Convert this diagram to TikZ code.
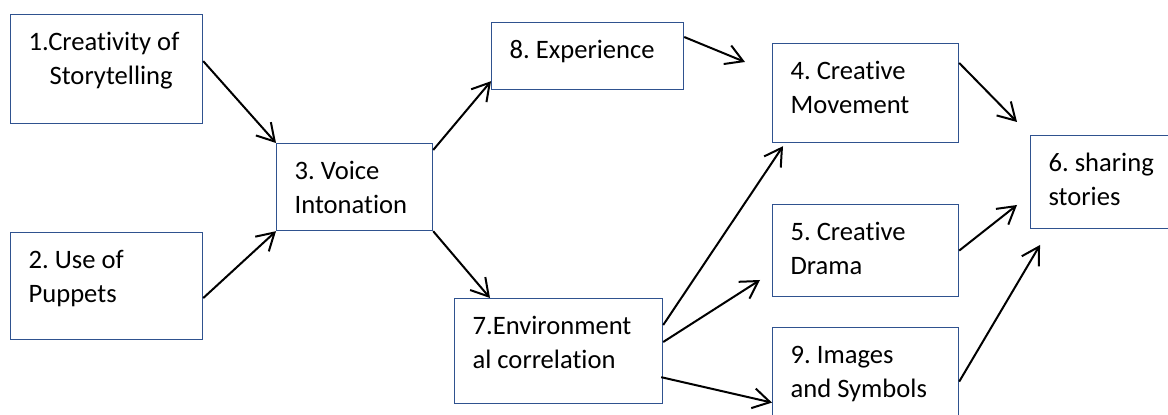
\documentclass[tikz,border=0pt]{standalone}
\usepackage{fontspec}
\setmainfont{Carlito}[Ligatures=NoCommon]
\usepackage{tikz}
\usetikzlibrary{arrows.meta}
\definecolor{boxblue}{HTML}{2F528F}

\tikzset{
  box/.style 2 args={draw=boxblue, line width=0.6pt, anchor=north west,
    inner xsep=9pt, inner ysep=0pt, align=flush left,
    text width=#1, text height=18pt, text depth=#2,
    font=\fontsize{13.3}{17}\selectfont\frenchspacing},
  arr/.style={-{Straight Barb[length=8.5pt,width=10pt]}, line width=1pt}
}

\begin{document}
\begin{tikzpicture}[x=0.5pt,y=-0.5pt]
\clip (0,0) rectangle (1168,415);
\fill[white] (0,0) rectangle (1168,415);

% left column
\node[box={78pt}{36.5pt}] (b1) at (10,14) {1.Creativity of\\\hspace*{10.5pt}Storytelling};
\node[box={78pt}{35.5pt}] (b2) at (10,232) {2. Use of\\Puppets};
\node[box={60pt}{25.5pt}] (b3) at (276,143) {3. Voice\\Intonation};

% middle
\node[box={78pt}{15.5pt}] (b8) at (491,22) {8. Experience};
\node[box={86pt}{34.5pt}] (b7) at (454,298) {7.Environment\\al correlation};

% right column
\node[box={75pt}{31.5pt}] (b4) at (772,43) {4. Creative\\Movement};
\node[box={75pt}{28pt}] (b5) at (772,204) {5. Creative\\Drama};
\node[box={75pt}{36pt}] (b9) at (772,327) {9. Images\\and Symbols};
\node[box={62pt}{28.5pt}] (b6) at (1030,135) {6. sharing\\stories};

% free arrow ends
\coordinate (e84) at (745,62);
\coordinate (e75) at (760,280);
\coordinate (e46) at (1017,122);
\coordinate (e56) at (1017,205);
\coordinate (e96) at (1040,245);

\draw[arr] ([yshift=4pt]b1.east) -- (b3.north west);
\draw[arr] ([yshift=-6pt]b2.east) -- (b3.south west);
\draw[arr] ([yshift=-3.5pt]b3.north east) -- ([yshift=4.5pt]b8.south west);
\draw[arr] (b3.south east) -- ([xshift=18pt]b7.north west);
\draw[arr] ([yshift=-7.5pt]b8.north east) -- (e84);
\draw[arr] ([yshift=-13.5pt]b7.north east) -- ([xshift=5.5pt,yshift=-1.5pt]b4.south west);
\draw[arr] ([yshift=-22pt]b7.north east) -- (e75);
\draw[arr] ([xshift=-1pt,yshift=13.5pt]b7.south east) -- ([yshift=-10.5pt]b9.west);
\draw[arr] ([yshift=-10pt]b4.north east) -- (e46);
\draw[arr] (b5.east) -- (e56);
\draw[arr] (b9.east) -- (e96);
\end{tikzpicture}
\end{document}
